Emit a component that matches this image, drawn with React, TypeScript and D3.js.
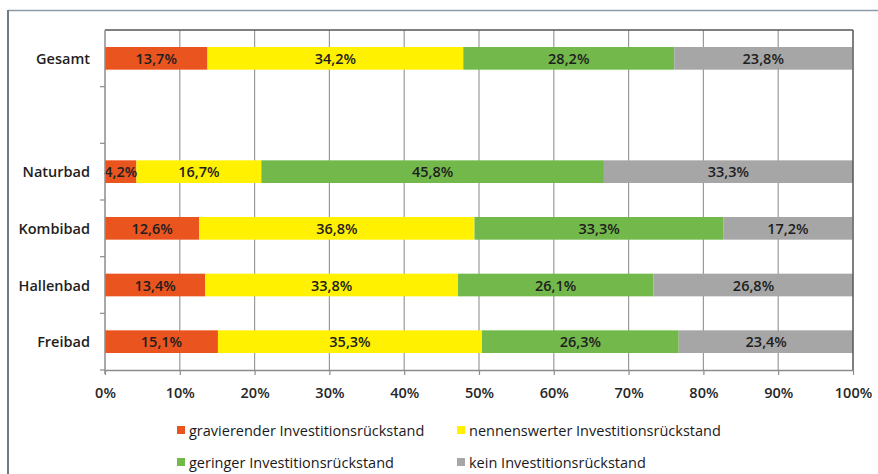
import { useEffect, useRef } from "react";
import * as d3 from "d3";

const categories = ["Gesamt", "", "Naturbad", "Kombibad", "Hallenbad", "Freibad"];
const seriesNames = [
  "gravierender Investitionsrückstand",
  "nennenswerter Investitionsrückstand",
  "geringer Investitionsrückstand",
  "kein Investitionsrückstand",
];
const seriesColors = ["#E9541F", "#FFF100", "#72B84B", "#A6A6A6"];
const gravierend = [13.7, null, 4.2, 12.6, 13.4, 15.1];
const nennenswert = [34.2, null, 16.7, 36.8, 33.8, 35.3];
const gering = [28.2, null, 45.8, 33.3, 26.1, 26.3];
const kein = [23.8, null, 33.3, 17.2, 26.8, 23.4];
const xTicks = [0, 10, 20, 30, 40, 50, 60, 70, 80, 90, 100];

const FONT = "'Open Sans', 'DejaVu Sans', sans-serif";

export default function App() {
  const svgRef = useRef<SVGSVGElement>(null);

  useEffect(() => {
    if (!svgRef.current) return;
    const svg = d3.select(svgRef.current);
    svg.selectAll("*").remove();

    const W = 878;
    const H = 474;
    const margin = { top: 30, right: 25, bottom: 104, left: 105 };

    // outer frame (only top and left edges are visible)
    svg.append("rect").attr("width", W).attr("height", H).attr("fill", "#ffffff");
    svg.append("line").attr("x1", 8).attr("x2", W).attr("y1", 10.5).attr("y2", 10.5)
      .attr("stroke", "#8d9ba6").attr("stroke-width", 1.5);
    svg.append("line").attr("x1", 8).attr("x2", 8).attr("y1", 10).attr("y2", H)
      .attr("stroke", "#6e7c88").attr("stroke-width", 2);

    const x = d3.scaleLinear().domain([0, 100]).range([margin.left, W - margin.right]);
    const y = d3.scaleBand<string>()
      .domain(categories.map((c, i) => c || `_${i}`))
      .range([margin.top, H - margin.bottom])
      .paddingInner(0.6)
      .paddingOuter(0.3);
    const key = (i: number) => categories[i] || `_${i}`;
    const [y0, y1] = y.range();

    // vertical gridlines
    svg.append("g").selectAll("line")
      .data(xTicks.slice(1, -1))
      .join("line")
      .attr("x1", (d) => x(d)).attr("x2", (d) => x(d))
      .attr("y1", y0).attr("y2", y1)
      .attr("stroke", "#9a9a9a").attr("stroke-width", 1.2);

    // stacked bars
    const rows = categories.map((c, i) => ({
      key: key(i),
      vals: [gravierend[i], nennenswert[i], gering[i], kein[i]],
    })).filter((r) => r.vals[0] !== null);

    const segs: { key: string; s: number; start: number; v: number }[] = [];
    rows.forEach((r) => {
      let acc = 0;
      r.vals.forEach((v, s) => {
        segs.push({ key: r.key, s, start: acc, v: v as number });
        acc += v as number;
      });
    });

    svg.append("g").selectAll("rect")
      .data(segs)
      .join("rect")
      .attr("x", (d) => x(d.start))
      .attr("y", (d) => y(d.key) || 0)
      .attr("width", (d) => Math.min(x(d.start + d.v), x(100)) - x(d.start))
      .attr("height", y.bandwidth())
      .attr("fill", (d) => seriesColors[d.s]);

    svg.append("g").selectAll("text")
      .data(segs)
      .join("text")
      .attr("x", (d) => x(d.start + d.v / 2))
      .attr("y", (d) => (y(d.key) || 0) + y.bandwidth() / 2)
      .attr("text-anchor", "middle")
      .attr("dominant-baseline", "central")
      .attr("font-family", FONT)
      .attr("font-size", 14.5)
      .attr("font-weight", 600)
      .attr("fill", "#1e1e1e")
      .text((d) => `${d.v.toFixed(1).replace(".", ",")}%`);

    // plot border: top and right dark, left axis grey
    svg.append("line").attr("x1", x(0)).attr("x2", x(100)).attr("y1", y0).attr("y2", y0)
      .attr("stroke", "#555555").attr("stroke-width", 1.5);
    svg.append("line").attr("x1", x(100)).attr("x2", x(100)).attr("y1", y0).attr("y2", y1)
      .attr("stroke", "#555555").attr("stroke-width", 1.5);
    svg.append("line").attr("x1", x(0)).attr("x2", x(0)).attr("y1", y0).attr("y2", y1 + 4)
      .attr("stroke", "#8c8c8c").attr("stroke-width", 1.5);

    // y ticks at band boundaries
    svg.append("g").selectAll("line")
      .data(d3.range(1, categories.length + 1))
      .join("line")
      .attr("x1", x(0) - 5).attr("x2", x(0))
      .attr("y1", (k) => y0 + k * y.step()).attr("y2", (k) => y0 + k * y.step())
      .attr("stroke", "#8c8c8c").attr("stroke-width", 1.2);

    // x axis
    const xAxis = svg.append("g")
      .attr("transform", `translate(0,${y1})`)
      .call(d3.axisBottom(x).tickValues(xTicks).tickSize(5).tickSizeOuter(0)
        .tickFormat((d) => `${d}%`));
    xAxis.select(".domain").attr("stroke", "#8c8c8c").attr("stroke-width", 1.5);
    xAxis.selectAll(".tick line").attr("stroke", "#8c8c8c").attr("stroke-width", 1.2);
    xAxis.selectAll(".tick text")
      .attr("font-family", FONT)
      .attr("font-size", 14.5)
      .attr("font-weight", 600)
      .attr("fill", "#262626")
      .attr("y", 14)
      .attr("dy", "0.95em");

    // y labels
    svg.append("g").selectAll("text")
      .data(categories.filter((c) => c))
      .join("text")
      .attr("x", 90)
      .attr("y", (d) => (y(d) || 0) + y.bandwidth() / 2)
      .attr("text-anchor", "end")
      .attr("dominant-baseline", "central")
      .attr("font-family", FONT)
      .attr("font-size", 14.5)
      .attr("font-weight", 600)
      .attr("fill", "#1e1e1e")
      .text((d) => d);

    // legend
    const legX = [177, 457];
    const legY = [430, 462];
    const leg = svg.append("g").selectAll("g")
      .data(seriesNames)
      .join("g")
      .attr("transform", (_, i) => `translate(${legX[i % 2]},${legY[Math.floor(i / 2)]})`);
    leg.append("rect")
      .attr("x", 0).attr("y", -4).attr("width", 8).attr("height", 8)
      .attr("fill", (_, i) => seriesColors[i]);
    leg.append("text")
      .attr("x", 12)
      .attr("y", 0)
      .attr("dominant-baseline", "central")
      .attr("font-family", FONT)
      .attr("font-size", 14.5)
      .attr("font-weight", 500)
      .attr("fill", "#1a1a1a")
      .text((d) => d);
  }, []);

  return (
    <svg
      ref={svgRef}
      width={878}
      height={474}
      style={{ position: "absolute", left: 0, top: 0 }}
    />
  );
}
